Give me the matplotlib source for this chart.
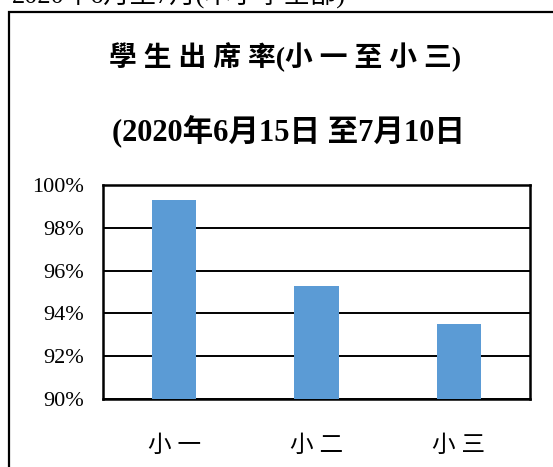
import matplotlib.pyplot as plt
from matplotlib.patches import Rectangle
from matplotlib.ticker import FuncFormatter

# data
grades = ['小 一', '小 二', '小 三']
attendance = [99.3, 95.3, 93.5]
y_ticks = [90, 92, 94, 96, 98, 100]

plt.rcParams['font.family'] = ['Liberation Serif', 'Noto Sans CJK TC']

fig = plt.figure(figsize=(5.53, 4.67), dpi=100)

# outer chart frame (cropped on the right/bottom)
frame = Rectangle((9 / 553, -0.1), 1.2, 1 - 12 / 467 + 0.1, transform=fig.transFigure,
                  fill=False, edgecolor='black', linewidth=1.6)
fig.patches.append(frame)

# cropped heading line at the very top
fig.text(12 / 553, 1 + 6 / 467, '2020年6月至7月(本小學全部)', fontsize=19,
         ha='left', va='center')

fig.text(285 / 553, 1 - 57 / 467, '學 生 出 席 率(小 一 至 小 三)', fontsize=20,
         fontweight='bold', ha='center', va='center')
fig.text(112 / 553, 1 - 131 / 467, '(2020年6月15日 至7月10日', fontsize=22,
         fontweight='bold', ha='left', va='center')

ax = fig.add_axes([103 / 553, 1 - 399 / 467, 427 / 553, 214 / 467])
x = range(len(grades))
ax.bar(x, attendance, width=0.31, color='#5B9BD5', zorder=3)

ax.set_xlim(-0.5, len(grades) - 0.5)
ax.set_ylim(90, 100)
ax.set_yticks(y_ticks)
ax.yaxis.set_major_formatter(FuncFormatter(lambda v, p: f'{v:.0f}%'))
ax.set_xticks(list(x))
ax.set_xticklabels(grades, fontsize=17)
ax.tick_params(axis='y', labelsize=16, length=0, pad=14)
ax.tick_params(axis='x', length=0, pad=26)
ax.grid(axis='y', color='black', linewidth=1.4, zorder=0)
for s in ax.spines.values():
    s.set_linewidth(1.8)
    s.set_color('black')

plt.savefig('out.png', dpi=100)
